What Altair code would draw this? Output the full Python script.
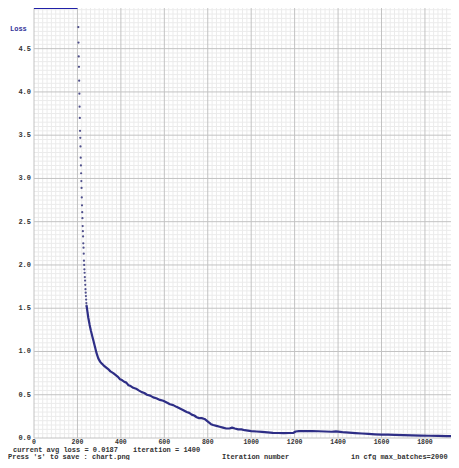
import altair as alt
import pandas as pd

# ---- data ----
# early iterations: individual dots while the average loss drops steeply
dot_iter = [204, 205, 206, 207, 208, 209, 210, 211, 212, 213, 214, 215, 216, 217,
            218, 219, 220, 221, 222, 223, 224, 225, 226, 227, 228, 229, 230, 231,
            232, 233, 234, 235, 236, 237, 238, 239, 240, 241, 242]
dot_loss = [4.75, 4.57, 4.41, 4.29, 4.13, 3.98, 3.83, 3.70, 3.55, 3.47, 3.37, 3.24,
            3.15, 3.06, 2.97, 2.89, 2.78, 2.69, 2.61, 2.54, 2.45, 2.39, 2.33, 2.25,
            2.20, 2.13, 2.05, 2.00, 1.95, 1.91, 1.86, 1.82, 1.77, 1.72, 1.68, 1.64,
            1.60, 1.56, 1.53]

# continuous part of the curve
line_iter = [242, 246, 250, 256, 262, 268, 274, 280, 288, 296, 305, 312, 320, 330,
             340, 352, 365, 375, 385, 396, 405, 415, 425, 435, 445, 457, 470, 482,
             496, 508, 520, 535, 549, 563, 580, 595, 611, 626, 641, 656, 672, 688,
             703, 715, 726, 738, 749, 760, 772, 785, 795, 805, 815, 825, 840, 855,
             870, 885, 900, 912, 925, 940, 955, 970, 985, 1000, 1025, 1050, 1075,
             1100, 1125, 1150, 1175, 1195, 1205, 1220, 1250, 1280, 1310, 1340, 1370,
             1390, 1400, 1420, 1450, 1480, 1510, 1540, 1570, 1600, 1630, 1660, 1700,
             1740, 1780, 1820, 1860, 1900, 1920]
line_loss = [1.53, 1.46, 1.39, 1.31, 1.24, 1.18, 1.12, 1.06, 0.98, 0.92, 0.88, 0.86,
             0.84, 0.82, 0.80, 0.77, 0.75, 0.73, 0.71, 0.68, 0.67, 0.65, 0.64, 0.61,
             0.60, 0.58, 0.57, 0.55, 0.53, 0.52, 0.50, 0.49, 0.47, 0.46, 0.44, 0.43,
             0.41, 0.39, 0.38, 0.36, 0.34, 0.32, 0.30, 0.29, 0.27, 0.26, 0.24, 0.23,
             0.23, 0.22, 0.20, 0.18, 0.16, 0.15, 0.14, 0.13, 0.12, 0.11, 0.11, 0.12,
             0.11, 0.10, 0.10, 0.09, 0.085, 0.08, 0.075, 0.07, 0.065, 0.06, 0.058,
             0.057, 0.058, 0.06, 0.075, 0.08, 0.08, 0.079, 0.078, 0.075, 0.072, 0.076,
             0.074, 0.068, 0.062, 0.057, 0.052, 0.047, 0.043, 0.040, 0.038, 0.036,
             0.033, 0.030, 0.028, 0.026, 0.024, 0.022, 0.021]

# iterations before 200 whose loss is above the chart's maximum (drawn at the top)
top_start = [0]
top_end = [200]

x_labels = [0, 200, 400, 600, 800, 1000, 1200, 1400, 1600, 1800]
y_labels = [0.0, 0.5, 1.0, 1.5, 2.0, 2.5, 3.0, 3.5, 4.0, 4.5]

X_MAX = 1920
Y_MAX = 4.97
W, H = 417, 430

x_minor = [v for v in range(0, X_MAX, 20) if v % 200 != 0]
y_minor = [round(v * 0.05, 2) for v in range(0, 100) if v % 10 != 0]

xs = alt.Scale(domain=[0, X_MAX], nice=False, zero=False)
ys = alt.Scale(domain=[0, Y_MAX], nice=False)

FONT = "Liberation Mono"
TXT = "#333333"

minor_vx = alt.Chart(pd.DataFrame({"v": x_minor})).mark_rule(
    color="#ebebeb", strokeWidth=1).encode(x=alt.X("v:Q", scale=xs, axis=None))
minor_hy = alt.Chart(pd.DataFrame({"v": y_minor})).mark_rule(
    color="#ebebeb", strokeWidth=1).encode(y=alt.Y("v:Q", scale=ys, axis=None))
major_vx = alt.Chart(pd.DataFrame({"v": x_labels})).mark_rule(
    color="#c2c2c2", strokeWidth=1).encode(x=alt.X("v:Q", scale=xs, axis=None))
major_hy = alt.Chart(pd.DataFrame({"v": y_labels})).mark_rule(
    color="#c2c2c2", strokeWidth=1).encode(y=alt.Y("v:Q", scale=ys, axis=None))

# tick labels, placed through the scales
x_tick_text = alt.Chart(pd.DataFrame({"v": x_labels})).mark_text(
    font=FONT, fontWeight="bold", fontSize=6.5, color=TXT,
    align="center", baseline="middle").encode(
    x=alt.X("v:Q", scale=xs, axis=None), y=alt.value(H + 4),
    text=alt.Text("v:Q", format="d"))
y_tick_text = alt.Chart(pd.DataFrame({"v": y_labels})).mark_text(
    font=FONT, fontWeight="bold", fontSize=7, color=TXT,
    align="right", baseline="middle").encode(
    y=alt.Y("v:Q", scale=ys, axis=None), x=alt.value(-3),
    text=alt.Text("v:Q", format=".1f"))

top_line = alt.Chart(pd.DataFrame({"s": top_start, "e": top_end})).mark_rule(
    color="#2020a8", strokeWidth=2).encode(
    x=alt.X("s:Q", scale=xs, axis=None), x2="e:Q", y=alt.value(0))

dots = alt.Chart(pd.DataFrame({"it": dot_iter, "loss": dot_loss})).mark_circle(
    color="#50508c", size=5, opacity=1).encode(
    x=alt.X("it:Q", scale=xs, axis=None), y=alt.Y("loss:Q", scale=ys, axis=None))

curve = alt.Chart(pd.DataFrame({"it": line_iter, "loss": line_loss})).mark_line(
    color="#2e2e86", strokeWidth=2.2, strokeJoin="round").encode(
    x=alt.X("it:Q", scale=xs, axis=None),
    y=alt.Y("loss:Q", scale=ys, axis=None))

ann_text = ["Loss", "current avg loss = 0.0187", "iteration = 1400",
            "Press 's' to save : chart.png", "Iteration number",
            "in cfg max_batches=2000"]
ann_x = [-24, -21, 99, -26, 188, 317]
ann_y = [21, H + 11.5, H + 11.5, H + 18.5, H + 18.5, H + 18.5]
ann_color = ["#333399", TXT, TXT, TXT, TXT, TXT]

texts = [
    alt.Chart(pd.DataFrame({"t": [t]})).mark_text(
        align="left", baseline="middle", font=FONT, fontWeight="bold",
        fontSize=7, color=c).encode(text="t:N", x=alt.value(x), y=alt.value(y))
    for t, x, y, c in zip(ann_text, ann_x, ann_y, ann_color)
]

chart = alt.layer(minor_vx, minor_hy, major_vx, major_hy, top_line, dots, curve,
                  x_tick_text, y_tick_text, *texts).properties(
    width=W, height=H,
    autosize=alt.AutoSizeParams(type="none"),
    padding={"left": 26, "top": 0, "right": 0, "bottom": 22},
    background="white",
).configure_view(stroke=None)

chart.save("out.html", embed_options={"renderer": "svg", "actions": False})
